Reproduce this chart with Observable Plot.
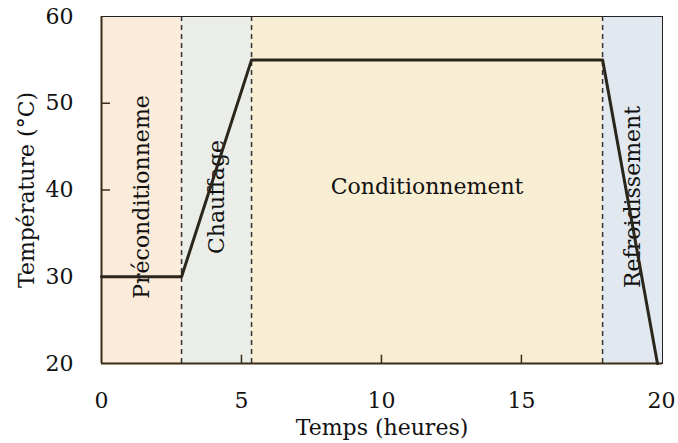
<!DOCTYPE html>
<html>
<head>
<meta charset="utf-8">
<script src="https://cdn.jsdelivr.net/npm/d3@7"></script>
<script src="https://cdn.jsdelivr.net/npm/@observablehq/plot@0.6"></script>
<style>
  body { margin: 0; background: #fff; }
  svg { font-family: "DejaVu Serif", serif; }
</style>
</head>
<body>
<div id="chart"></div>
<script>
// Phases (start, end in hours), labels and fills
const phaseNames = ["Préconditionneme", "Chauffage", "Conditionnement", "Refroidissement"];
const phaseStart = [0, 2.86, 5.36, 17.9];
const phaseEnd = [2.86, 5.36, 17.9, 20.04];
const phaseColors = ["#fbebda", "#ebeee8", "#f8eed3", "#e2e8f0"];
const phaseRotate = [-90, -90, 0, -90];

// Temperature profile
const timeHours = [0, 2.86, 5.36, 17.9, 19.86];
const temperature = [30, 30, 55, 55, 20];

// Axis ticks
const xTicks = [0, 5, 10, 15, 20];
const yTicks = [20, 30, 40, 50, 60];

const phases = phaseNames.map((name, i) => ({
  name, x1: phaseStart[i], x2: phaseEnd[i], color: phaseColors[i],
  mid: (phaseStart[i] + phaseEnd[i]) / 2, rotate: phaseRotate[i]
}));
const profile = timeHours.map((t, i) => ({t, T: temperature[i]}));
const boundaries = phaseStart.slice(1);

const axisColor = "#3b2d16";

const chart = Plot.plot({
  width: 678,
  height: 443,
  marginLeft: 101,
  marginRight: 16,
  marginTop: 16,
  marginBottom: 80,
  style: {fontFamily: "DejaVu Serif, serif", fontSize: "22px", color: "#111", background: "#fff"},
  x: {domain: [0, 20.04]},
  y: {domain: [20, 60]},
  marks: [
    Plot.rect(phases, {x1: "x1", x2: "x2", y1: 20, y2: 60, fill: "color"}),
    Plot.ruleX(boundaries, {stroke: "#333", strokeWidth: 1.5, strokeDasharray: "5,4"}),
    Plot.frame({stroke: "#222", strokeWidth: 1}),
    Plot.ruleX([0], {stroke: axisColor, strokeWidth: 2}),
    Plot.ruleY([20], {stroke: axisColor, strokeWidth: 2}),
    Plot.ruleY(yTicks.slice(1, -1), {x1: 0, x2: 0.32, stroke: axisColor, strokeWidth: 1.5}),
    Plot.ruleX(xTicks.slice(1, -1), {y1: 20, y2: 20.95, stroke: axisColor, strokeWidth: 1.5}),
    Plot.text(phases.filter(d => d.rotate !== 0), {
      x: "mid", frameAnchor: "middle", dy: 7, text: "name", rotate: -90,
      fontSize: 22, fill: "#111"
    }),
    Plot.text(phases.filter(d => d.rotate === 0), {
      x: "mid", frameAnchor: "middle", dy: -3, text: "name",
      fontSize: 22, fill: "#111"
    }),
    Plot.line(profile, {x: "t", y: "T", stroke: "#2a261b", strokeWidth: 3}),
    Plot.axisX({ticks: xTicks, tickSize: 0, tickPadding: 29, label: "Temps (heures)",
      labelAnchor: "center", labelArrow: "none", labelOffset: 71, fontSize: 22}),
    Plot.axisY({ticks: yTicks, tickSize: 0, tickPadding: 28, label: "Température (°C)",
      labelAnchor: "center", labelArrow: "none", labelOffset: 83, fontSize: 22})
  ]
});
document.getElementById("chart").appendChild(chart);
</script>
</body>
</html>
